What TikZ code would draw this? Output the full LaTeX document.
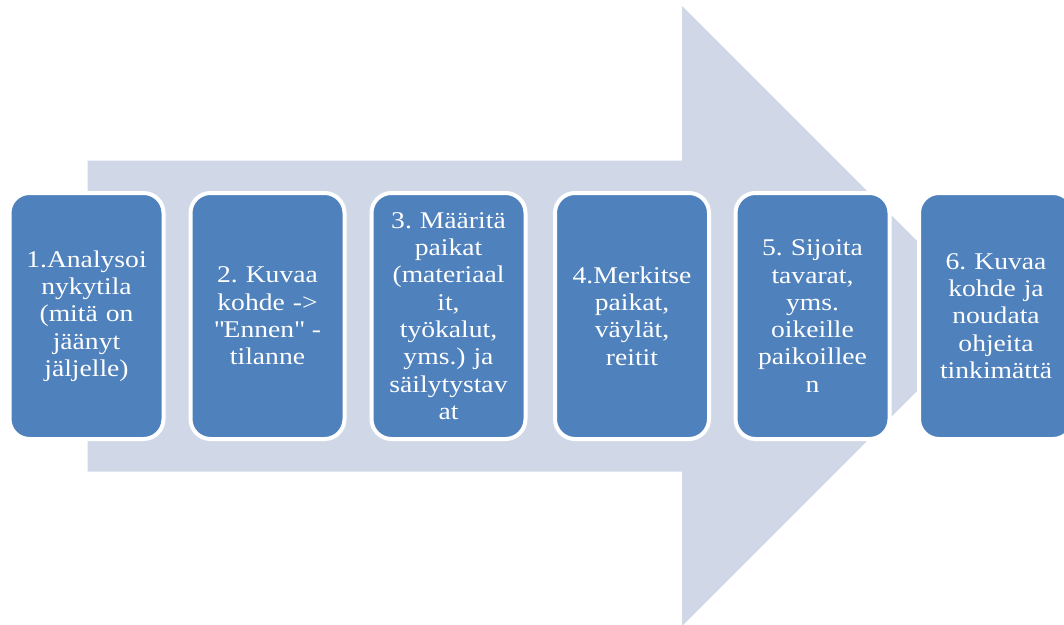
\documentclass[tikz,border=0pt]{standalone}
\usepackage{fontspec}
\setmainfont[FakeStretch=1.15]{Liberation Serif}
\frenchspacing
\definecolor{stepblue}{HTML}{4F81BD}
\definecolor{arrowgray}{HTML}{D0D8E8}
% straight double quote, bypassing the TeX ligature mapping
\newcommand{\straightquote}{\XeTeXglyph\XeTeXcharglyph"22\relax}
\tikzset{
  stepbox/.style={rectangle, rounded corners=20pt, fill=stepblue, draw=white,
    line width=4pt, minimum width=154pt, minimum height=246pt, inner sep=0pt,
    text=white, align=center, text width=150pt,
    font=\fontsize{24}{27.3}\selectfont},
}
\begin{document}
\begin{tikzpicture}[x=1pt,y=-1pt]
\useasboundingbox (0,0) rectangle (1064,624);
\begin{scope}
\clip (0,0) rectangle (1064,624);
% big background arrow
\fill[arrowgray] (87.5,160.7) -- (682,160.7) -- (682,6) -- (992,316)
  -- (682,626) -- (682,471.7) -- (87.5,471.7) -- cycle;
% process steps
\node[stepbox] (s1) at (86.5,316) {1.Analysoi\\nykytila\\(mitä on\\jäänyt\\jäljelle)};
\node[stepbox] (s2) at (267.5,316) {2. Kuvaa\\kohde ->\\\straightquote Ennen\straightquote{} -\\tilanne};
\node[stepbox] (s3) at (448.5,316) {3. Määritä\\paikat\\(materiaal\\it,\\työkalut,\\yms.) ja\\säilytystav\\at};
\node[stepbox] (s4) at (632,316) {4.Merkitse\\paikat,\\väylät,\\reitit};
\node[stepbox] (s5) at (812.5,316) {5. Sijoita\\tavarat,\\yms.\\oikeille\\paikoillee\\n};
\node[stepbox] (s6) at (996,316) {6. Kuvaa\\kohde ja\\noudata\\ohjeita\\tinkimättä};
\end{scope}
\end{tikzpicture}
\end{document}
